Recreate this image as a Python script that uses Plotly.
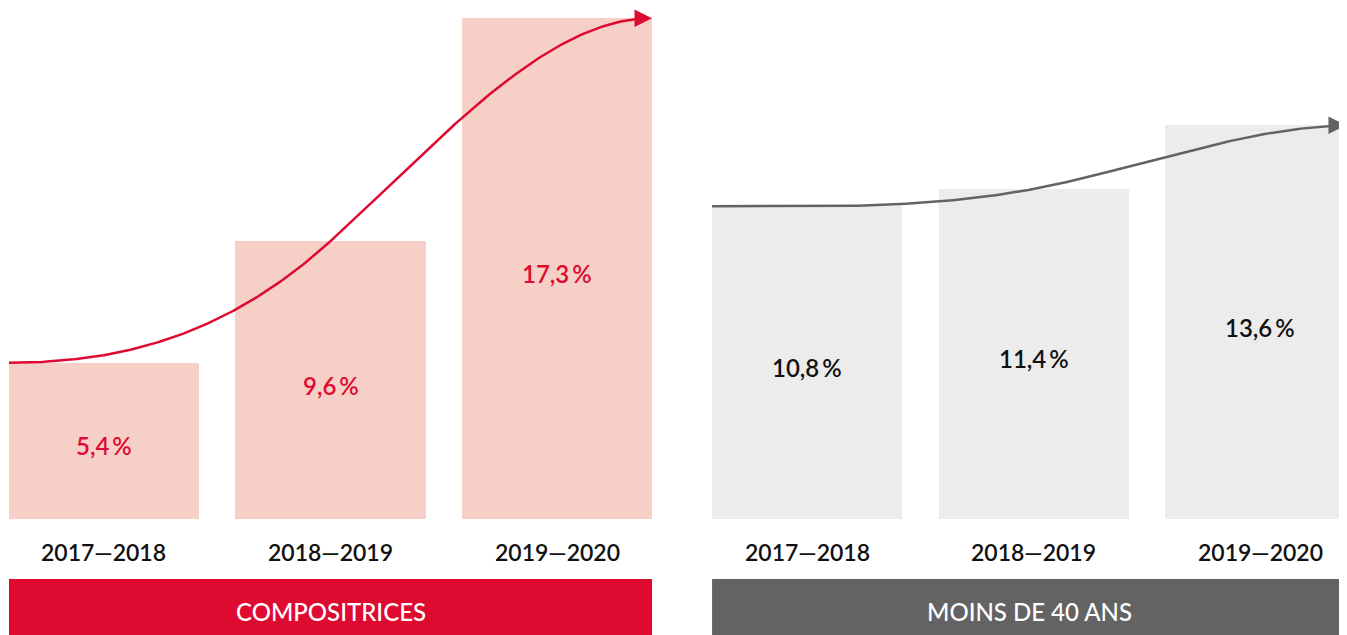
import numpy as np
import plotly.graph_objects as go

periods = ["2017\u20142018", "2018\u20142019", "2019\u20142020"]
compositrices = [5.4, 9.6, 17.3]
moins_40 = [10.8, 11.4, 13.6]
panel_titles = ["COMPOSITRICES", "MOINS DE 40 ANS"]

RED = "#df0a30"
PINK = "#f6cfc6"
GRAY_BAR = "#ececec"
GRAY_DARK = "#636363"
FONT = "Lato"

BW = 0.839
left_x = np.array([0.0, 1.0, 2.0])
right_x = left_x + 3.104


def hermite_curve(xs, vs, factor=1.6, n=120):
    # smooth curve: flat at ends, passes through middle bar top
    x0, x1, x2 = xs[0] - BW / 2, xs[1], xs[2] + BW / 2
    v0, v1, v2 = vs
    m1 = factor * (v2 - v0) / (x2 - x0)
    pts_x, pts_y = [], []
    for (a, b, ya, yb, ma, mb) in [(x0, x1, v0, v1, 0.0, m1), (x1, x2, v1, v2, m1, 0.0)]:
        t = np.linspace(0, 1, n)
        h = b - a
        h00 = 2 * t**3 - 3 * t**2 + 1
        h10 = t**3 - 2 * t**2 + t
        h01 = -2 * t**3 + 3 * t**2
        h11 = t**3 - t**2
        pts_x.extend(list(a + t * h))
        pts_y.extend(list(h00 * ya + h10 * h * ma + h01 * yb + h11 * h * mb))
    return np.array(pts_x), np.array(pts_y)


fig = go.Figure()

X_VIS = 5.488   # visible right edge of the window
X_RANGE_MAX = 5.523

for xs, vals, fill, tcol, lcol, title, bcol, fac in [
    (left_x, compositrices, PINK, RED, RED, panel_titles[0], RED, 1.7),
    (right_x, moins_40, GRAY_BAR, "#111111", GRAY_DARK, panel_titles[1], GRAY_DARK, 1.5),
]:
    fig.add_trace(go.Bar(
        x=xs, y=vals, width=BW, marker=dict(color=fill, line=dict(width=0)),
        hoverinfo="skip", showlegend=False,
    ))
    for x, v in zip(xs, vals):
        fig.add_annotation(
            x=x, y=v / 2, yshift=-5, text=f"{v:.1f}".replace(".", ",") + "\u2009%",
            showarrow=False, xref="x", yref="y",
            font=dict(family=FONT, size=24, color=tcol, weight=600),
        )
    cx, cy = hermite_curve(xs, vals, factor=fac)
    x_end = min(cx[-1], X_VIS - 0.005)
    keep = cx < x_end - 0.03
    fig.add_trace(go.Scatter(
        x=cx[keep], y=cy[keep], mode="lines", line=dict(color=lcol, width=2.5),
        hoverinfo="skip", showlegend=False,
    ))
    fig.add_annotation(
        x=x_end, y=cy[-1], ax=x_end - 0.06, ay=cy[-1], xref="x", yref="y",
        axref="x", ayref="y", text="", showarrow=True, arrowhead=2,
        arrowsize=1.4, arrowwidth=2.5, arrowcolor=lcol, standoff=0,
    )
    for x, p in zip(xs, periods):
        fig.add_annotation(
            x=x, y=-1.14, text=p, showarrow=False, xref="x", yref="y",
            font=dict(family=FONT, size=23, color="#111111", weight=600),
        )
    x_left = xs[0] - BW / 2
    x_right = min(xs[-1] + BW / 2, X_RANGE_MAX + 0.1)
    fig.add_shape(type="rect", x0=x_left, x1=x_right, y0=-2.073, y1=-4.4,
                  xref="x", yref="y", fillcolor=bcol, line=dict(width=0), layer="below")
    fig.add_annotation(
        x=(x_left + min(x_right, X_VIS)) / 2,
        y=-3.18, text=title, showarrow=False, xref="x", yref="y",
        font=dict(family=FONT, size=24, color="white", weight=500),
    )

fig.update_layout(
    width=1347, height=635,
    margin=dict(l=0, r=0, t=0, b=0),
    paper_bgcolor="white", plot_bgcolor="white",
    bargap=0,
    xaxis=dict(range=[-0.4238, X_RANGE_MAX], visible=False, fixedrange=True),
    yaxis=dict(range=[-4.283, 17.65], visible=False, fixedrange=True),
)

fig.write_html("out.html")
